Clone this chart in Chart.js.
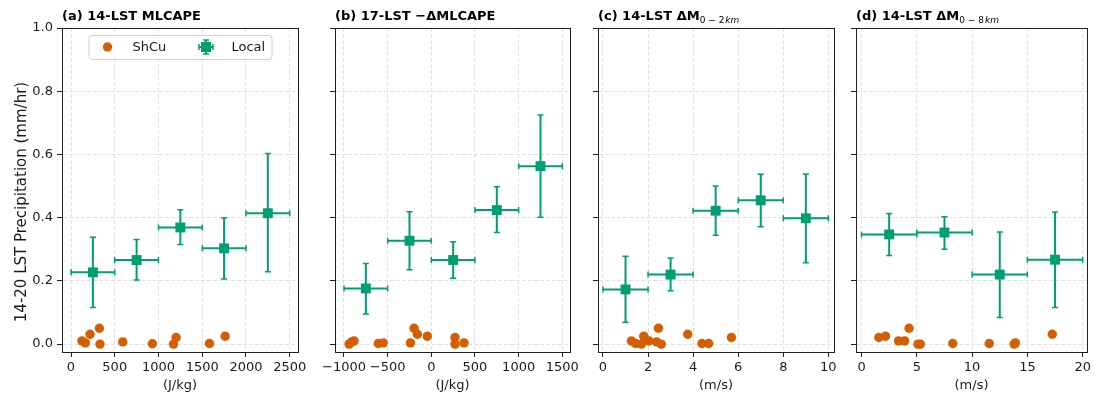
<!DOCTYPE html>
<html>
<head>
<meta charset="utf-8">
<script src="https://cdn.jsdelivr.net/npm/chart.js@4.4.1/dist/chart.umd.min.js"></script>
<style>
  html, body { margin: 0; padding: 0; background: #fff; }
  #wrap { position: relative; width: 1094px; height: 394px; }
  #wrap canvas { position: absolute; left: 0; top: 0; }
</style>
</head>
<body>
<div id="wrap">
  <canvas id="pa" width="1094" height="394"></canvas>
  <canvas id="pb" width="1094" height="394"></canvas>
  <canvas id="pc" width="1094" height="394"></canvas>
  <canvas id="pd" width="1094" height="394"></canvas>
</div>
<script>
// shared y ticks
const yTicks = [0.0, 0.2, 0.4, 0.6, 0.8, 1.0];

// (a) 14-LST MLCAPE
const capeTicks = [0, 500, 1000, 1500, 2000, 2500];
const capeBins = [0, 500, 1000, 1500, 2000, 2500];
const capeLocalX = [250, 750, 1250, 1750, 2250];
const capeLocalY = [0.227, 0.266, 0.369, 0.303, 0.414];
const capeLocalLo = [0.116, 0.203, 0.315, 0.206, 0.229];
const capeLocalHi = [0.338, 0.331, 0.425, 0.400, 0.603];
const capeShcuX = [125, 164, 217, 324, 331, 591, 930, 1171, 1201, 1583, 1762];
const capeShcuY = [0.010, 0.004, 0.031, 0.050, 0.000, 0.007, 0.001, 0.000, 0.021, 0.002, 0.025];

// (b) 17-LST -dMLCAPE
const dcapeTicks = [-1000, -500, 0, 500, 1000, 1500];
const dcapeBins = [-1000, -500, 0, 500, 1000, 1500];
const dcapeLocalX = [-750, -250, 250, 750, 1250];
const dcapeLocalY = [0.176, 0.327, 0.266, 0.424, 0.563];
const dcapeLocalLo = [0.095, 0.235, 0.208, 0.353, 0.401];
const dcapeLocalHi = [0.255, 0.419, 0.324, 0.498, 0.725];
const dcapeShcuX = [-942, -912, -885, -607, -550, -240, -198, -160, -46, 271, 271, 374];
const dcapeShcuY = [0.000, 0.007, 0.010, 0.002, 0.004, 0.004, 0.050, 0.031, 0.025, 0.021, 0.000, 0.004];

// (c) 14-LST dM 0-2km
const dm2Ticks = [0, 2, 4, 6, 8, 10];
const dm2Bins = [0, 2, 4, 6, 8, 10];
const dm2LocalX = [1, 3, 5, 7, 9];
const dm2LocalY = [0.173, 0.220, 0.422, 0.455, 0.398];
const dm2LocalLo = [0.069, 0.169, 0.344, 0.371, 0.257];
const dm2LocalHi = [0.278, 0.272, 0.500, 0.537, 0.538];
const dm2ShcuX = [1.26, 1.45, 1.70, 1.81, 2.04, 2.38, 2.46, 2.59, 3.76, 4.39, 4.69, 5.70];
const dm2ShcuY = [0.010, 0.002, 0.000, 0.025, 0.010, 0.007, 0.050, 0.000, 0.031, 0.002, 0.002, 0.021];

// (d) 14-LST dM 0-8km
const dm8Ticks = [0, 5, 10, 15, 20];
const dm8Bins = [0, 5, 10, 15, 20];
const dm8LocalX = [2.5, 7.5, 12.5, 17.5];
const dm8LocalY = [0.347, 0.353, 0.220, 0.267];
const dm8LocalLo = [0.280, 0.300, 0.084, 0.116];
const dm8LocalHi = [0.413, 0.403, 0.355, 0.418];
const dm8ShcuX = [1.57, 2.17, 3.35, 3.89, 4.30, 5.10, 5.31, 8.25, 11.55, 13.80, 13.92, 17.25];
const dm8ShcuY = [0.021, 0.025, 0.010, 0.010, 0.050, 0.000, 0.000, 0.002, 0.002, 0.000, 0.004, 0.031];

const GREEN = '#009E73';
const ORANGE = '#D55E00';
const FONT = 'DejaVu Sans';
const W = 1094;

const panels = [
  { id: 'pa', left: 62, right: 298, xmin: -103, xmax: 2595, ticks: capeTicks, xlabel: '(J/kg)',
    title: [{ t: '(a) 14-LST MLCAPE', f: 'bold 13px ' + FONT }],
    bins: capeBins, lx: capeLocalX, ly: capeLocalY, lo: capeLocalLo, hi: capeLocalHi,
    sx: capeShcuX, sy: capeShcuY, first: true },
  { id: 'pb', left: 335, right: 570, xmin: -1103, xmax: 1588, ticks: dcapeTicks, xlabel: '(J/kg)',
    title: [{ t: '(b) 17-LST \u2212\u0394MLCAPE', f: 'bold 13px ' + FONT }],
    bins: dcapeBins, lx: dcapeLocalX, ly: dcapeLocalY, lo: dcapeLocalLo, hi: dcapeLocalHi,
    sx: dcapeShcuX, sy: dcapeShcuY },
  { id: 'pc', left: 598, right: 834, xmin: -0.22, xmax: 10.25, ticks: dm2Ticks, xlabel: '(m/s)',
    title: [{ t: '(c) 14-LST \u0394M', f: 'bold 13px ' + FONT },
            { t: '0 \u2212 2', f: '9px ' + FONT, dy: 3 },
            { t: 'km', f: 'italic 9px ' + FONT, dy: 3 }],
    bins: dm2Bins, lx: dm2LocalX, ly: dm2LocalY, lo: dm2LocalLo, hi: dm2LocalHi,
    sx: dm2ShcuX, sy: dm2ShcuY },
  { id: 'pd', left: 856, right: 1091, xmin: -0.5, xmax: 20.39, ticks: dm8Ticks, xlabel: '(m/s)',
    title: [{ t: '(d) 14-LST \u0394M', f: 'bold 13px ' + FONT },
            { t: '0 \u2212 8', f: '9px ' + FONT, dy: 3 },
            { t: 'km', f: 'italic 9px ' + FONT, dy: 3 }],
    bins: dm8Bins, lx: dm8LocalX, ly: dm8LocalY, lo: dm8LocalLo, hi: dm8LocalHi,
    sx: dm8ShcuX, sy: dm8ShcuY },
];

function crossBar(ctx, px, py, xl, xr, yl, yh) {
  ctx.lineWidth = 2;
  ctx.beginPath();
  ctx.moveTo(xl, py); ctx.lineTo(xr, py);
  ctx.moveTo(px, yl); ctx.lineTo(px, yh);
  ctx.stroke();
  ctx.lineWidth = 1.5;
  ctx.beginPath();
  ctx.moveTo(xl, py - 3); ctx.lineTo(xl, py + 3);
  ctx.moveTo(xr, py - 3); ctx.lineTo(xr, py + 3);
  ctx.moveTo(px - 3, yl); ctx.lineTo(px + 3, yl);
  ctx.moveTo(px - 3, yh); ctx.lineTo(px + 3, yh);
  ctx.stroke();
}

function deco(p) {
  return {
    id: 'deco_' + p.id,
    beforeDatasetsDraw(chart) {
      const { ctx, scales: { x, y } } = chart;
      ctx.save();
      ctx.strokeStyle = GREEN;
      p.lx.forEach((v, i) => {
        crossBar(ctx,
          x.getPixelForValue(v), y.getPixelForValue(p.ly[i]),
          x.getPixelForValue(p.bins[i]), x.getPixelForValue(p.bins[i + 1]),
          y.getPixelForValue(p.lo[i]), y.getPixelForValue(p.hi[i]));
      });
      ctx.restore();
    },
    afterDraw(chart) {
      const { ctx, chartArea: a } = chart;
      ctx.save();
      // frame
      ctx.strokeStyle = '#222';
      ctx.lineWidth = 1;
      const l = Math.round(a.left - 0.5) + 0.5, r = Math.round(a.right - 0.5) + 0.5;
      const t = Math.round(a.top - 0.5) + 0.5, b = Math.round(a.bottom - 0.5) + 0.5;
      ctx.strokeRect(l, t, r - l, b - t);
      // title
      ctx.fillStyle = '#000';
      ctx.textBaseline = 'alphabetic';
      ctx.textAlign = 'left';
      let tx = a.left;
      p.title.forEach(part => {
        ctx.font = part.f;
        ctx.fillText(part.t, tx, 20 + (part.dy || 0));
        tx += ctx.measureText(part.t).width + (part.dy ? 1 : 0);
      });
      if (p.first) {
        // y label
        ctx.save();
        ctx.translate(26, 202);
        ctx.rotate(-Math.PI / 2);
        ctx.font = '15px ' + FONT;
        ctx.textAlign = 'center';
        ctx.fillStyle = '#1a1a1a';
        ctx.fillText('14-20 LST Precipitation (mm/hr)', 0, 0);
        ctx.restore();
        // legend
        const cx = (a.left + a.right) / 2;
        const bx = cx - 91.5, by = 35, bw = 183, bh = 24;
        ctx.beginPath();
        ctx.roundRect(bx + 0.5, by + 0.5, bw, bh, 3);
        ctx.fillStyle = 'rgba(255,255,255,0.8)';
        ctx.fill();
        ctx.strokeStyle = '#d0d0d0';
        ctx.stroke();
        const my = by + 12;
        ctx.fillStyle = ORANGE;
        ctx.beginPath();
        ctx.arc(bx + 19, my, 4.7, 0, Math.PI * 2);
        ctx.fill();
        ctx.strokeStyle = GREEN;
        const gx = bx + 117.5;
        crossBar(ctx, gx, my, gx - 7, gx + 7, my + 7, my - 7);
        ctx.fillStyle = GREEN;
        ctx.fillRect(gx - 5, my - 5, 10, 10);
        ctx.fillStyle = '#1a1a1a';
        ctx.font = '13px ' + FONT;
        ctx.textBaseline = 'middle';
        ctx.fillText('ShCu', bx + 44, my + 1);
        ctx.fillText('Local', bx + 143, my + 1);
      }
      ctx.restore();
    }
  };
}

panels.forEach(p => {
  const yw = p.first ? 62 : 8;
  new Chart(document.getElementById(p.id), {
    type: 'scatter',
    data: {
      datasets: [
        { label: 'ShCu', data: p.sx.map((v, i) => ({ x: v, y: p.sy[i] })),
          pointStyle: 'circle', pointRadius: 4.7, backgroundColor: ORANGE, borderColor: ORANGE, borderWidth: 0 },
        { label: 'Local', data: p.lx.map((v, i) => ({ x: v, y: p.ly[i] })),
          pointStyle: 'rect', pointRadius: 7, backgroundColor: GREEN, borderColor: GREEN, borderWidth: 0 }
      ]
    },
    options: {
      responsive: false,
      animation: false,
      events: [],
      layout: { padding: { left: p.left - yw, right: W - p.right, top: 28, bottom: 0 } },
      plugins: { legend: { display: false }, tooltip: { enabled: false } },
      scales: {
        x: {
          type: 'linear', min: p.xmin, max: p.xmax,
          afterBuildTicks: ax => { ax.ticks = p.ticks.map(v => ({ value: v })); },
          afterFit: ax => { ax.height = 42; ax.paddingLeft = 0; ax.paddingRight = 0; },
          ticks: { autoSkip: false, maxRotation: 0, padding: 3,
                   color: '#1a1a1a', font: { family: FONT, size: 13 },
                   callback: v => v < 0 ? '\u2212' + Math.abs(v) : String(v) },
          grid: { color: '#e2e2e2', tickColor: '#222', tickLength: 5, tickBorderDash: [] },
          border: { display: true, color: '#222', dash: [4, 2] },
          title: { display: true, text: p.xlabel, color: '#1a1a1a', font: { family: FONT, size: 13 },
                   padding: { top: 0, bottom: 1 } }
        },
        y: {
          type: 'linear', min: -0.025, max: 1.0,
          afterBuildTicks: ax => { ax.ticks = yTicks.map(v => ({ value: v })); },
          afterFit: ax => { ax.width = yw; ax.paddingTop = 0; ax.paddingBottom = 0; },
          ticks: { display: !!p.first, autoSkip: false, padding: 4,
                   color: '#1a1a1a', font: { family: FONT, size: 13 },
                   callback: v => v.toFixed(1) },
          grid: { color: '#e2e2e2', tickColor: '#222', tickLength: 5, tickBorderDash: [] },
          border: { display: true, color: '#222', dash: [4, 2] }
        }
      }
    },
    plugins: [deco(p)]
  });
});
</script>
</body>
</html>
